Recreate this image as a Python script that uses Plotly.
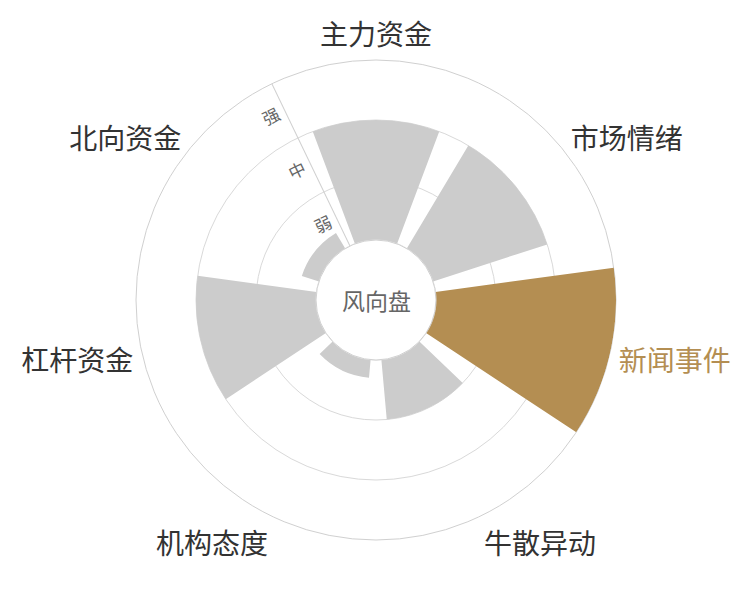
import plotly.graph_objects as go

categories = ['主力资金', '市场情绪', '新闻事件', '牛散异动', '机构态度', '杠杆资金', '北向资金']
values = [2.0, 2.0, 3.0, 1.0, 0.3, 2.0, 0.3]
level_vals = [0.5, 1.5, 2.5]
level_text = ['弱', '中', '强']
highlight = '新闻事件'
center_title = '风向盘'

GRAY = '#cccccc'
GOLD = '#b48e52'
colors = [GOLD if c == highlight else GRAY for c in categories]
ticktext = [f"<span style='color:{GOLD}'>{c}</span>" if c == highlight else c for c in categories]

n = len(categories)
axis_angle = 90 + 360 / n / 2

fig = go.Figure()
# grid layer (bottom)
fig.add_trace(go.Barpolar(r=[0] * n, theta=categories, subplot='polar', marker_color='rgba(0,0,0,0)', hoverinfo='skip', showlegend=False))
# bars
fig.add_trace(go.Barpolar(r=values, theta=categories, subplot='polar2', marker=dict(color=colors, line=dict(width=0)), showlegend=False))
# hole outline
circle_theta = [i * 2 for i in range(181)]
fig.add_trace(go.Scatterpolar(r=[0] * len(circle_theta), theta=circle_theta, thetaunit='degrees', subplot='polar3', mode='lines', line=dict(color='#d9d9d9', width=1), hoverinfo='skip', showlegend=False))

# body margin of the page (8px) is compensated in the domain
dx, dy = 8, 8
dom = dict(x=[(136 - dx) / 750, (616 - dx) / 750], y=[(60 + dy) / 600, (540 + dy) / 600])
common_ang = dict(direction='clockwise', rotation=90, showgrid=False)
fig.update_layout(
    width=750, height=600,
    margin=dict(l=0, r=0, t=0, b=0),
    paper_bgcolor='white',
    font=dict(family='Noto Sans CJK SC'),
    polar=dict(
        domain=dom, hole=0.25, bgcolor='white', bargap=0.2,
        radialaxis=dict(range=[0, 3], tickvals=[1, 2], showticklabels=False, showline=False, ticks='', gridcolor='#d9d9d9', gridwidth=1),
        angularaxis=dict(**common_ang, ticks='', type='category', categoryarray=categories, showticklabels=False, showline=True, linecolor='#d0d0d0', linewidth=1, layer='below traces'),
    ),
    polar2=dict(
        domain=dom, hole=0.25, bgcolor='rgba(0,0,0,0)', bargap=0.2,
        radialaxis=dict(range=[0, 3], angle=axis_angle, side='counterclockwise', tickvals=level_vals, ticktext=level_text, tickangle=90,
                        showgrid=False, showline=True, linecolor='#d0d0d0', linewidth=1, ticks='',
                        tickfont=dict(size=17, color='#666666')),
        angularaxis=dict(**common_ang, ticks='outside', ticklen=3, tickcolor='rgba(0,0,0,0)', type='category', categoryarray=categories, tickmode='array', tickvals=categories, ticktext=ticktext,
                         showline=False, tickfont=dict(size=28, color='#333333')),
    ),
    polar3=dict(
        domain=dom, hole=0.25, bgcolor='rgba(0,0,0,0)',
        radialaxis=dict(range=[0, 3], visible=False),
        angularaxis=dict(visible=False, direction='clockwise', rotation=90),
    ),
    annotations=[dict(text=center_title, x=(dom['x'][0] + dom['x'][1]) / 2, y=(dom['y'][0] + dom['y'][1]) / 2, xref='paper', yref='paper', showarrow=False,
                      font=dict(size=23, color='#666666'))],
)
fig.write_html('out.html')
